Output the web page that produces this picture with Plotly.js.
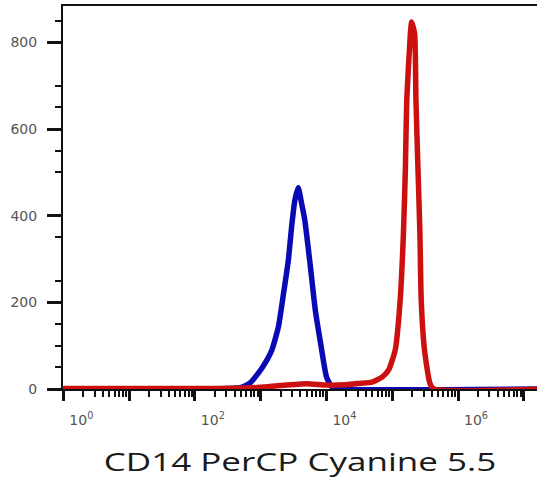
<!DOCTYPE html>
<html>
<head>
<meta charset="utf-8">
<script src="https://cdn.plot.ly/plotly-3.0.1.min.js"></script>
<style>
html,body{margin:0;padding:0;background:#fff;}
#chart{width:537px;height:484px;}
</style>
</head>
<body>
<div id="chart"></div>
<script>
// Blue histogram (unstained / isotype)
var blueX = [1, 204, 302, 490, 692, 1072, 1479, 1862, 2188, 2630, 2951, 3311, 3715, 4169, 4677, 5623, 6761, 8128, 10000, 12023, 15849, 19952623];
var blueY = [0, 0, 1, 3, 14, 51, 90, 144, 213, 297, 374, 436, 465, 430, 390, 290, 182, 106, 28, 5, 0, 0];
// Red histogram (CD14 PerCP Cyanine 5.5)
var redX = [1, 100, 501, 1000, 1995, 5012, 10000, 19953, 31623, 48978, 70795, 88105, 110917, 131826, 147911, 158489, 165959, 188365, 197242, 218776, 229087, 245471, 263027, 275423, 309030, 371535, 426580, 19952623];
var redY = [1, 1, 2, 4, 8, 12, 9, 10, 13, 16, 28, 44, 90, 205, 360, 512, 666, 820, 847, 820, 666, 512, 360, 205, 90, 14, 0, 0];

var xTickVals = [1, 10, 100, 1000, 10000, 100000, 1000000, 10000000];
var xTickText = ['10<sup>0</sup>', '', '10<sup>2</sup>', '', '10<sup>4</sup>', '', '10<sup>6</sup>', ''];
var yTickVals = [0, 200, 400, 600, 800];
var yTickText = ['0', '200', '400', '600', '800'];
var yMinorVals = [50, 100, 150, 250, 350, 500, 550, 650, 700, 850];
var xTitle = 'CD14 PerCP Cyanine 5.5';

var xMinorVals = [];
for (var d = 1; d <= 1e7; d *= 10) {
  for (var k = 2; k <= 9; k++) xMinorVals.push(d * k);
}

var traces = [
  {x: blueX, y: blueY, type: 'scatter', mode: 'lines', line: {color: '#0a0ab4', width: 5.5, shape: 'spline', smoothing: 0.5}, cliponaxis: false, hoverinfo: 'skip'},
  {x: redX, y: redY, type: 'scatter', mode: 'lines', line: {color: '#cc1010', width: 5.5, shape: 'spline', smoothing: 0.5}, cliponaxis: false, hoverinfo: 'skip'}
];

var layout = {
  width: 537, height: 484,
  margin: {l: 63, r: 0, t: 6, b: 95},
  paper_bgcolor: '#ffffff', plot_bgcolor: '#ffffff',
  showlegend: false,
  xaxis: {
    type: 'log', range: [-0.005, 7.2],
    tickmode: 'array', tickvals: xTickVals, ticktext: xTickText,
    ticks: 'outside', ticklen: 10, tickwidth: 3, tickcolor: '#111',
    minor: {tickmode: 'array', tickvals: xMinorVals, ticks: 'outside', ticklen: 6, tickwidth: 2, tickcolor: '#111'},
    showline: true, linecolor: '#111', linewidth: 2, mirror: true,
    showgrid: false, zeroline: false,
    tickfont: {family: 'DejaVu Sans', size: 14, color: '#555'},
    ticklabelshift: 18, ticklabelstandoff: 7,
    title: {text: xTitle, font: {family: 'Open Sans', size: 25, color: '#1a1a1a'}, standoff: 27},
    automargin: false
  },
  yaxis: {
    range: [0, 884],
    tickmode: 'array', tickvals: yTickVals, ticktext: yTickText,
    ticks: 'outside', ticklen: 14, tickwidth: 3, tickcolor: '#111',
    minor: {tickmode: 'array', tickvals: yMinorVals, ticks: 'outside', ticklen: 6, tickwidth: 2, tickcolor: '#111'},
    showline: true, linecolor: '#111', linewidth: 2,
    showgrid: false, zeroline: false,
    tickfont: {family: 'DejaVu Sans', size: 14, color: '#555'},
    ticklabelstandoff: 7,
    automargin: false
  }
};

Plotly.newPlot('chart', traces, layout, {staticPlot: true, displayModeBar: false}).then(function () {
  document.querySelectorAll('.xtitle').forEach(function (el) {
    el.style.transformBox = 'fill-box';
    el.style.transformOrigin = 'center';
    el.style.transform = 'scaleX(1.4)';
  });
});
</script>
</body>
</html>
